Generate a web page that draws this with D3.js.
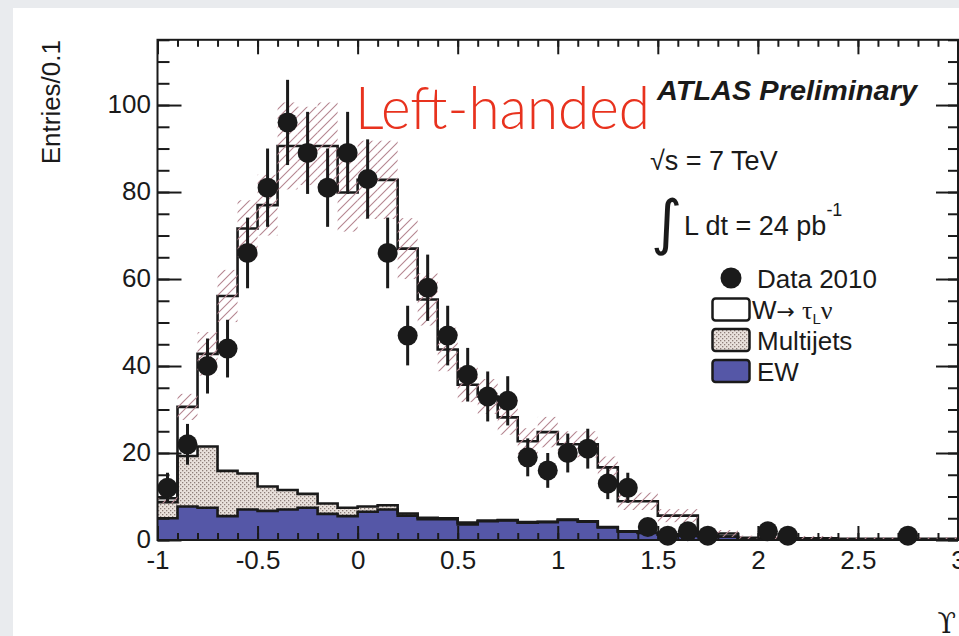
<!DOCTYPE html>
<html>
<head>
<meta charset="utf-8">
<script src="https://cdn.jsdelivr.net/npm/d3@7/dist/d3.min.js"></script>
<style>
  html, body { margin: 0; padding: 0; background: #e9ebee; }
  svg { display: block; }
</style>
</head>
<body>
<svg id="chart" width="959" height="636" font-family="Liberation Sans, Arial, Helvetica, sans-serif"></svg>
<script>
// Histogram binning: 40 bins of width 0.1 starting at -1
const binLow = -1;
const binWidth = 0.1;
const nBins = 40;

// Stacked expectation, per bin (entries / 0.1)
const ewValues = [5.0, 7.7, 7.4, 5.5, 7.0, 6.7, 7.0, 7.4, 6.0, 5.5,
                  6.5, 7.0, 5.6, 4.8, 4.8, 3.6, 4.3, 4.5, 4.0, 4.1,
                  4.6, 4.2, 2.9, 1.9, 1.6, 1.2, 1.0, 0.9, 0.8, 0.2,
                  0.1, 0.1, 0.1, 0.1, 0.05, 0.05, 0.05, 0.05, 0.05, 0.05];
const multijetValues = [3.7, 11.6, 14.1, 10.4, 8.3, 5.6, 4.5, 3.2, 2.4, 1.9,
                        1.2, 1.0, 0.5, 0.3, 0.2, 0.4, 0.2, 0.1, 0.1, 0.1,
                        0.1, 0.1, 0.1, 0.1, 0.1, 0.1, 0.1, 0, 0, 0,
                        0, 0, 0, 0, 0, 0, 0, 0, 0, 0];
const wTauValues = [0.9, 11.3, 21.3, 40.2, 56.3, 64.7, 79.1, 80.0, 82.2, 72.5,
                    75.1, 74.8, 60.9, 50.2, 38.8, 31.7, 28.5, 23.6, 18.6, 20.6,
                    17.3, 17.7, 13.7, 6.9, 7.2, 4.3, 4.5, 0.6, 0.7, 0.3,
                    0.3, 0.3, 0.3, 0.3, 0.25, 0.25, 0.2, 0.2, 0.2, 0.2];
// Half-width of the uncertainty band on the total expectation
const bandErrors = [1.2, 3.0, 5.0, 6.0, 6.5, 7.0, 10.0, 9.0, 10.0, 9.0,
                    9.0, 9.0, 7.0, 6.0, 5.0, 4.0, 4.0, 4.0, 3.0, 3.5,
                    3.0, 3.0, 2.5, 2.0, 2.0, 1.5, 1.5, 0.8, 0.8, 0.5,
                    0.5, 0.5, 0.5, 0.5, 0.4, 0.4, 0.4, 0.4, 0.4, 0.4];
// Observed events, Data 2010
const dataCounts = [12, 22, 40, 44, 66, 81, 96, 89, 81, 89,
                    83, 66, 47, 58, 47, 38, 33, 32, 19, 16,
                    20, 21, 13, 12, 3, 1, 2, 1, 0, 0,
                    2, 1, 0, 0, 0, 0, 0, 1, 0, 0];

const xMajorTicks = [-1, -0.5, 0, 0.5, 1, 1.5, 2, 2.5, 3];
const xTickLabels = ["-1", "-0.5", "0", "0.5", "1", "1.5", "2", "2.5", "3"];
const yMajorTicks = [0, 20, 40, 60, 80, 100];
const yTickLabels = ["0", "20", "40", "60", "80", "100"];

const W = 959, H = 636;
const svg = d3.select("#chart");

const x = d3.scaleLinear().domain([-1, 3]).range([157.5, 958]);
const y = d3.scaleLinear().domain([0, 115]).range([540, 39.8]);

const defs = svg.append("defs");
defs.append("clipPath").attr("id", "plotClip")
  .append("rect").attr("x", x(-1)).attr("y", y(115))
  .attr("width", x(3) - x(-1)).attr("height", y(0) - y(115));

// hatching for the uncertainty band
const hatch = defs.append("pattern").attr("id", "hatch")
  .attr("patternUnits", "userSpaceOnUse").attr("width", 9).attr("height", 9);
hatch.append("path")
  .attr("d", "M-1,1 l2,-2 M0,9 l9,-9 M8,10 l2,-2")
  .attr("stroke", "#b58590").attr("stroke-width", 1.1).attr("fill", "none");

// fine dotted fill for multijets
const dots = defs.append("pattern").attr("id", "dots")
  .attr("patternUnits", "userSpaceOnUse").attr("width", 4).attr("height", 4);
dots.append("rect").attr("width", 4).attr("height", 4).attr("fill", "#e9e1dc");
dots.append("rect").attr("x", 0).attr("y", 0).attr("width", 1.3).attr("height", 1.3).attr("fill", "#8e7e79");
dots.append("rect").attr("x", 2).attr("y", 2).attr("width", 1.3).attr("height", 1.3).attr("fill", "#8e7e79");

// page background with the white card
svg.append("rect").attr("width", W).attr("height", H).attr("fill", "#e9ebee");
svg.append("rect").attr("x", 13).attr("y", 8).attr("width", W - 13).attr("height", H - 8).attr("fill", "#ffffff");

// cumulative stack levels
const ewTop = ewValues.slice();
const mjTop = ewValues.map((v, i) => v + multijetValues[i]);
const totalTop = mjTop.map((v, i) => v + wTauValues[i]);

const edges = d3.range(nBins + 1).map(i => +(binLow + i * binWidth).toFixed(2));
const stepPoints = (lo, hi) => edges.map((e, i) => {
  const k = Math.min(i, nBins - 1);
  return { x: e, y0: lo ? lo[k] : 0, y1: hi[k] };
});

const area = d3.area().curve(d3.curveStepAfter)
  .x(d => x(d.x)).y0(d => y(d.y0)).y1(d => y(d.y1));
const topLine = d3.line().curve(d3.curveStepAfter)
  .x(d => x(d.x)).y(d => y(d.y1));

const plot = svg.append("g").attr("clip-path", "url(#plotClip)");

plot.append("path").datum(stepPoints(null, ewTop)).attr("d", area).attr("fill", "#5557a7");
plot.append("path").datum(stepPoints(ewTop, mjTop)).attr("d", area).attr("fill", "url(#dots)");
plot.append("path").datum(stepPoints(mjTop, totalTop)).attr("d", area).attr("fill", "#ffffff");

[totalTop, mjTop, ewTop].forEach(level => {
  plot.append("path").datum(stepPoints(null, level)).attr("d", topLine)
    .attr("fill", "none").attr("stroke", "#1a1a1a").attr("stroke-width", 2.6);
});

// uncertainty band
plot.selectAll("rect.band").data(totalTop).join("rect").attr("class", "band")
  .attr("x", (d, i) => x(edges[i]))
  .attr("width", (d, i) => x(edges[i + 1]) - x(edges[i]))
  .attr("y", (d, i) => y(d + bandErrors[i]))
  .attr("height", (d, i) => y(Math.max(0, d - bandErrors[i])) - y(d + bandErrors[i]))
  .attr("fill", "url(#hatch)");

// axes: ticks drawn inside the frame on all four sides
const tickStyle = g => {
  g.select(".domain").remove();
  g.selectAll(".tick line").attr("stroke", "#1a1a1a").attr("stroke-width", 2);
};
const xMinor = d3.range(-10, 31).map(i => i / 10);
const yMinor = d3.range(0, 116, 5);
const sansFont = "Liberation Sans, Arial, Helvetica, sans-serif";

svg.append("g").attr("transform", `translate(0,${y(0)})`)
  .call(d3.axisBottom(x).tickValues(xMinor).tickSize(-7).tickFormat(""))
  .call(tickStyle);
svg.append("g").attr("transform", `translate(0,${y(0)})`)
  .call(d3.axisBottom(x).tickValues(xMajorTicks).tickSize(-14)
    .tickPadding(10.5).tickFormat((d, i) => xTickLabels[i]))
  .call(tickStyle)
  .call(g => g.attr("font-family", sansFont).attr("font-size", 26))
  .call(g => g.selectAll("text").attr("fill", "#1a1a1a"));

svg.append("g").attr("transform", `translate(0,${y(115)})`)
  .call(d3.axisTop(x).tickValues(xMinor).tickSize(-7).tickFormat(""))
  .call(tickStyle);
svg.append("g").attr("transform", `translate(0,${y(115)})`)
  .call(d3.axisTop(x).tickValues(xMajorTicks).tickSize(-14.5).tickFormat(""))
  .call(tickStyle);

svg.append("g").attr("transform", `translate(${x(-1)},0)`)
  .call(d3.axisLeft(y).tickValues(yMinor).tickSize(-12).tickFormat(""))
  .call(tickStyle);
svg.append("g").attr("transform", `translate(${x(-1)},0)`)
  .call(d3.axisLeft(y).tickValues(yMajorTicks).tickSize(-24).tickPadding(6.5)
    .tickFormat((d, i) => yTickLabels[i]))
  .call(tickStyle)
  .call(g => g.attr("font-family", sansFont).attr("font-size", 26))
  .call(g => g.selectAll("text").attr("fill", "#1a1a1a").attr("dy", "0.3em"));

svg.append("g").attr("transform", `translate(${x(3)},0)`)
  .call(d3.axisRight(y).tickValues(yMinor).tickSize(-10).tickFormat(""))
  .call(tickStyle);
svg.append("g").attr("transform", `translate(${x(3)},0)`)
  .call(d3.axisRight(y).tickValues(yMajorTicks).tickSize(-22).tickFormat(""))
  .call(tickStyle);

// frame
svg.append("rect").attr("x", x(-1)).attr("y", y(115))
  .attr("width", x(3) - x(-1)).attr("height", y(0) - y(115))
  .attr("fill", "none").attr("stroke", "#1a1a1a").attr("stroke-width", 2);

// data points with Poisson error bars
const dataPts = dataCounts.map((n, i) => ({ xc: binLow + (i + 0.5) * binWidth, n }))
  .filter(d => d.n > 0);
const dataG = svg.append("g");
dataG.selectAll("line").data(dataPts).join("line")
  .attr("x1", d => x(d.xc)).attr("x2", d => x(d.xc))
  .attr("y1", d => y(d.n + Math.sqrt(d.n))).attr("y2", d => y(d.n - Math.sqrt(d.n)))
  .attr("stroke", "#1a1a1a").attr("stroke-width", 3);
dataG.selectAll("circle").data(dataPts).join("circle")
  .attr("cx", d => x(d.xc)).attr("cy", d => y(d.n)).attr("r", 10)
  .attr("fill", "#1a1a1a");

// axis titles
svg.append("text").attr("transform", "translate(60,40) rotate(-90)")
  .attr("text-anchor", "end").attr("font-size", 26).attr("fill", "#1a1a1a")
  .text("Entries/0.1");
svg.append("text").attr("x", 956).attr("y", 633).attr("text-anchor", "end")
  .attr("font-family", "DejaVu Serif, Liberation Serif, serif")
  .attr("font-size", 27).attr("fill", "#1a1a1a").text("ϒ");

// annotations
svg.append("text").attr("x", 355).attr("y", 129)
  .attr("font-family", "Lato, Open Sans, sans-serif").attr("font-weight", 300)
  .attr("font-size", 60).attr("fill", "#e8321e")
  .attr("textLength", 295).attr("lengthAdjust", "spacingAndGlyphs")
  .text("Left-handed");
svg.append("text").attr("x", 657).attr("y", 100)
  .attr("font-size", 27).attr("font-weight", "bold").attr("font-style", "italic")
  .attr("fill", "#1a1a1a").attr("textLength", 260).attr("lengthAdjust", "spacingAndGlyphs")
  .text("ATLAS Preliminary");
svg.append("text").attr("x", 650).attr("y", 170)
  .attr("font-size", 27).attr("fill", "#1a1a1a").text("√s = 7 TeV");
svg.append("text").attr("x", 651).attr("y", 243)
  .attr("font-family", "DejaVu Sans, sans-serif")
  .attr("font-size", 60).attr("fill", "#1a1a1a").text("∫");
const lumi = svg.append("text").attr("x", 684).attr("y", 235)
  .attr("font-size", 27).attr("fill", "#1a1a1a");
lumi.append("tspan").text("L dt = 24 pb");
lumi.append("tspan").attr("dy", -19).attr("font-size", 18).text("-1");

// legend
const legendLabels = ["Data 2010", "W→ τLν", "Multijets", "EW"];
const legY = [278, 309.5, 340, 371];
const legG = svg.append("g");
legG.append("circle").attr("cx", 731).attr("cy", legY[0]).attr("r", 10.5).attr("fill", "#1a1a1a");
const boxFills = [null, "#ffffff", "url(#dots)", "#5557a7"];
[1, 2, 3].forEach(k => {
  legG.append("rect").attr("x", 712.5).attr("y", legY[k] - 11)
    .attr("width", 37).attr("height", 22).attr("rx", 3)
    .attr("fill", boxFills[k]).attr("stroke", "#1a1a1a").attr("stroke-width", 2.5);
});
legG.append("text").attr("x", 757).attr("y", legY[0] + 9.5)
  .attr("font-size", 26).attr("fill", "#1a1a1a").text(legendLabels[0]);
const wl = legG.append("text").attr("x", 752).attr("y", legY[1] + 9)
  .attr("font-size", 26).attr("fill", "#1a1a1a");
wl.append("tspan").text("W");
wl.append("tspan").attr("font-family", "DejaVu Sans, sans-serif").attr("font-size", 22).text("→ ");
wl.append("tspan").attr("font-family", "Liberation Serif, serif").text("τ");
wl.append("tspan").attr("font-size", 15).attr("dy", 5).text("L");
wl.append("tspan").attr("font-family", "Liberation Serif, serif").attr("dy", -5).text("ν");
legG.append("text").attr("x", 757).attr("y", legY[2] + 9.5)
  .attr("font-size", 26).attr("fill", "#1a1a1a").text(legendLabels[2]);
legG.append("text").attr("x", 757).attr("y", legY[3] + 9.5)
  .attr("font-size", 26).attr("fill", "#1a1a1a").text(legendLabels[3]);
</script>
</body>
</html>
